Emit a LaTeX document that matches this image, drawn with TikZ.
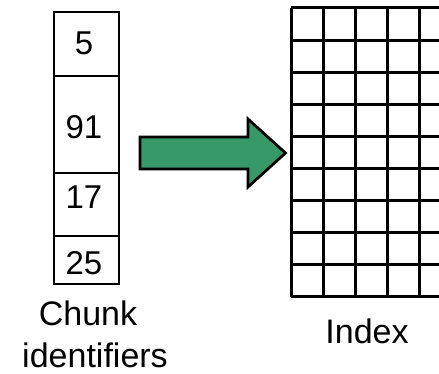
\documentclass[tikz,border=0pt]{standalone}
\usepackage{fontspec}
\setmainfont{Liberation Sans}
\definecolor{arrowgreen}{RGB}{55,153,104}
\begin{document}
\begin{tikzpicture}[x=1pt,y=-1pt,
  boxline/.style={line width=2.7pt, draw=black},
  gridline/.style={line width=3pt, draw=black},
  num/.style={font=\fontsize{33}{39}\selectfont, anchor=base, inner sep=0pt},
  caption/.style={font=\fontsize{34}{40}\selectfont, anchor=base, inner sep=0pt}]
\useasboundingbox (0,0) rectangle (439,374);
\clip (0,0) rectangle (439,374);

% column of chunk identifiers
\coordinate (ctop) at (54,12);
\coordinate (cbot) at (119,284);
\draw[boxline] (ctop) rectangle (cbot);
\draw[boxline] (54,76) -- (119,76);
\draw[boxline] (54,173) -- (119,173);
\draw[boxline] (54,236) -- (119,236);
\node[num] (n5)  at (84,55)  {5};
\node[num] (n91) at (84,139) {91};
\node[num] (n17) at (84,209) {17};
\node[num] (n25) at (84,274) {25};

% block arrow
\coordinate (a1) at (140,137);
\coordinate (a2) at (248,137);
\coordinate (a3) at (248,119);
\coordinate (tip) at (285.5,153);
\coordinate (a5) at (248,187);
\coordinate (a6) at (248,169);
\coordinate (a7) at (140,169);
\filldraw[fill=arrowgreen, draw=black, line width=2.7pt, line join=miter]
  (a1) -- (a2) -- (a3) -- (tip) -- (a5) -- (a6) -- (a7) -- cycle;

% index grid
\foreach \i in {0,...,5}
  \draw[gridline] (291+32.1*\i,8) -- (291+32.1*\i,297);
\foreach \j in {0,...,9}
  \draw[gridline] (291,8+32.1*\j) -- (460,8+32.1*\j);

% captions
\node[caption] (chunk) at (88,325) {Chunk};
\node[caption] (ident) at (95,367) {identifiers};
\node[caption] (index) at (367,343) {Index};
\end{tikzpicture}
\end{document}
